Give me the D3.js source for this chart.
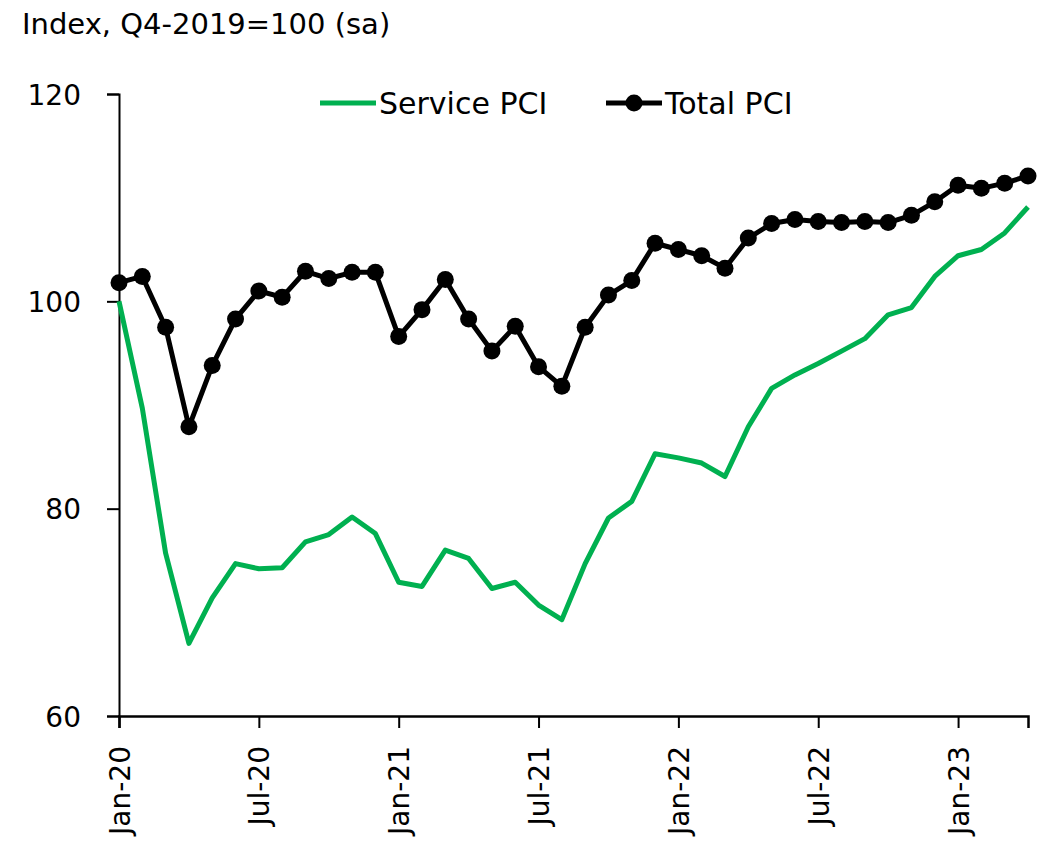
<!DOCTYPE html>
<html>
<head>
<meta charset="utf-8">
<script src="https://cdn.jsdelivr.net/npm/d3@7"></script>
<style>
  body { margin: 0; background: #fff; }
  text { font-family: "DejaVu Sans", sans-serif; fill: #000; }
</style>
</head>
<body>
<div id="chart"></div>
<script>
var months = ["Jan-20","Feb-20","Mar-20","Apr-20","May-20","Jun-20","Jul-20","Aug-20","Sep-20","Oct-20","Nov-20","Dec-20",
              "Jan-21","Feb-21","Mar-21","Apr-21","May-21","Jun-21","Jul-21","Aug-21","Sep-21","Oct-21","Nov-21","Dec-21",
              "Jan-22","Feb-22","Mar-22","Apr-22","May-22","Jun-22","Jul-22","Aug-22","Sep-22","Oct-22","Nov-22","Dec-22",
              "Jan-23","Feb-23","Mar-23","Apr-23"];
var tickLabels = ["Jan-20","Jul-20","Jan-21","Jul-21","Jan-22","Jul-22","Jan-23"];
var yTicks = [60, 80, 100, 120];

var servicePCI = [100.0, 89.7, 75.7, 67.0, 71.4, 74.7, 74.2, 74.3, 76.8, 77.5, 79.2, 77.6,
                  72.9, 72.5, 76.0, 75.2, 72.3, 72.9, 70.7, 69.3, 74.7, 79.1, 80.7, 85.3,
                  84.9, 84.4, 83.1, 87.9, 91.6, 92.9, 94.0, 95.2, 96.4, 98.7, 99.4, 102.4,
                  104.4, 105.0, 106.6, 109.1];
var totalPCI = [101.8, 102.4, 97.5, 87.9, 93.8, 98.3, 101.0, 100.4, 102.9, 102.2, 102.8, 102.8,
                96.6, 99.2, 102.1, 98.3, 95.2, 97.6, 93.7, 91.8, 97.5, 100.6, 102.0, 105.6,
                105.0, 104.4, 103.2, 106.1, 107.5, 107.9, 107.7, 107.6, 107.7, 107.6, 108.3, 109.6,
                111.2, 110.9, 111.4, 112.1];

var width = 1053, height = 843;
var green = "#00b050";

var svg = d3.select("#chart").append("svg")
    .attr("width", width)
    .attr("height", height);

var x = d3.scalePoint().domain(months).range([119, 1028]);
var y = d3.scaleLinear().domain([60, 120]).range([716, 94]);

// title
svg.append("text")
    .attr("x", 22).attr("y", 34)
    .style("font-size", "29px")
    .text("Index, Q4-2019=100 (sa)");

// y axis
var yAxis = svg.append("g")
    .attr("transform", "translate(119,0)")
    .call(d3.axisLeft(y).tickValues(yTicks).tickSizeOuter(0).tickSize(12).tickPadding(26));
yAxis.select(".domain").attr("stroke", "#000").attr("stroke-width", 2);
yAxis.selectAll(".tick line").attr("stroke", "#000").attr("stroke-width", 2);
yAxis.selectAll("text").style("font-size", "28px").attr("dy", "0.36em");

// x axis
var xAxis = svg.append("g")
    .attr("transform", "translate(0,716)")
    .call(d3.axisBottom(x).tickValues(tickLabels).tickSizeOuter(0).tickSize(12));
xAxis.select(".domain").attr("stroke", "#000").attr("stroke-width", 2.5);
xAxis.selectAll(".tick line").attr("stroke", "#000").attr("stroke-width", 2);
xAxis.selectAll("text")
    .style("font-size", "28px")
    .attr("transform", "rotate(-90)")
    .attr("text-anchor", "end")
    .attr("x", -30)
    .attr("y", 0)
    .attr("dy", "0.36em");

// lines
var line = d3.line()
    .x(function(d, i){ return x(months[i]); })
    .y(function(d){ return y(d); });

svg.append("path")
    .datum(servicePCI)
    .attr("fill", "none")
    .attr("stroke", green)
    .attr("stroke-width", 5)
    .attr("stroke-linejoin", "round")
    .attr("d", line);

svg.append("path")
    .datum(totalPCI)
    .attr("fill", "none")
    .attr("stroke", "#000")
    .attr("stroke-width", 5)
    .attr("stroke-linejoin", "round")
    .attr("d", line);

svg.append("g").selectAll("circle")
    .data(totalPCI)
    .enter().append("circle")
    .attr("cx", function(d, i){ return x(months[i]); })
    .attr("cy", function(d){ return y(d); })
    .attr("r", 8.5)
    .attr("fill", "#000");

// legend
var lg = svg.append("g");
lg.append("line")
    .attr("x1", 320).attr("x2", 376).attr("y1", 103).attr("y2", 103)
    .attr("stroke", green).attr("stroke-width", 5);
lg.append("text")
    .attr("x", 379).attr("y", 114)
    .style("font-size", "30px")
    .text("Service PCI");
lg.append("line")
    .attr("x1", 606).attr("x2", 662).attr("y1", 103).attr("y2", 103)
    .attr("stroke", "#000").attr("stroke-width", 5);
lg.append("circle")
    .attr("cx", 634).attr("cy", 103).attr("r", 8.5).attr("fill", "#000");
lg.append("text")
    .attr("x", 665).attr("y", 114)
    .style("font-size", "30px")
    .text("Total PCI");
</script>
</body>
</html>
